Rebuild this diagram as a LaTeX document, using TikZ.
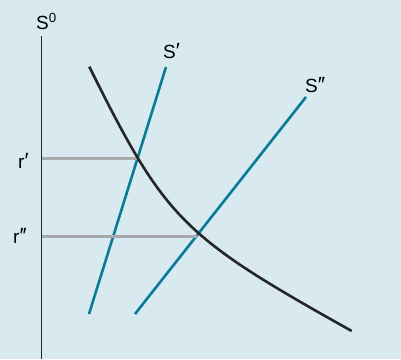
\documentclass[tikz,border=0pt]{standalone}
\usepackage{fontspec}
\setmainfont{Liberation Sans}
\definecolor{bgblue}{HTML}{D9E9F0}
\definecolor{supteal}{HTML}{0A7B97}
\definecolor{refgray}{HTML}{A7A9AC}
\newcommand{\pr}{{\fontsize{22}{22}\selectfont ′}}
\begin{document}
\begin{tikzpicture}[
    x=1pt, y=-1pt,
    every node/.append style={font=\fontsize{19}{21}\selectfont, inner sep=0pt},
    % styles
    axisline/.style={line width=1.5pt, black!85},
    supply/.style={line width=2.6pt, supteal},
    demand/.style={line width=2.6pt, black!85},
    refline/.style={line width=2.8pt, refgray},
]

% ========== background ==========
\fill[bgblue] (0,0) rectangle (401,359);
\useasboundingbox (0,0) rectangle (401,359);

% ========== axis ==========
\coordinate (axtop) at (41.5,36);
\coordinate (axbot) at (41.5,359);
\draw[axisline] (axtop) -- (axbot);
\node[anchor=base west] (s0) at (36,29) {S\textsuperscript{0}};

% ========== supply lines ==========
\coordinate (sa-top) at (166,67);
\coordinate (sa-bot) at (89,314);
\coordinate (sb-top) at (306,97);
\coordinate (sb-bot) at (135,314);
\draw[supply] (sa-bot) -- (sa-top);
\draw[supply] (sb-bot) -- (sb-top);
\node[anchor=base west] (sa) at (163,58) {S\pr};
\node[anchor=base west] (sb) at (305,92) {S\pr\kern-1pt\pr};

% ========== rates ==========
\coordinate (ra-ax) at (42.2,158.3);
\coordinate (ra-x) at (138,158.3);
\coordinate (rb-ax) at (42.2,236.5);
\coordinate (rb-x) at (196.5,236.5);
\draw[refline] (ra-ax) -- (ra-x);
\draw[refline] (rb-ax) -- (rb-x);
\node[anchor=base west] (ra) at (18,168) {r\pr};
\node[anchor=base west] (rb) at (13,243) {r\pr\kern-1pt\pr};

% ========== demand curve ==========
\coordinate (dm-top) at (89.3,66.7);
\coordinate (dm-bot) at (351.7,331);
\draw[demand] (dm-top) .. controls (165.7,220.4) and (182,236) .. (dm-bot);

\end{tikzpicture}
\end{document}
